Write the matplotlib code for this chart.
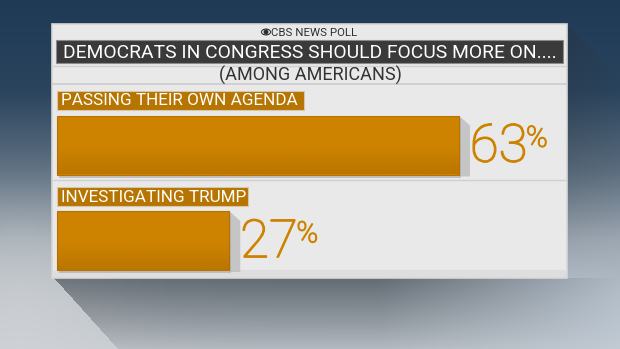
import numpy as np
import matplotlib.pyplot as plt
import matplotlib.patheffects as pe
from matplotlib.patches import Rectangle, Polygon, Ellipse, Circle
from matplotlib.colors import to_rgb

# poll results (percent)
labels = ['PASSING THEIR OWN AGENDA', 'INVESTIGATING TRUMP']
values = [63, 27]
title = 'DEMOCRATS IN CONGRESS SHOULD FOCUS MORE ON....'
subtitle = '(AMONG AMERICANS)'
source = 'CBS NEWS POLL'

W, H = 620, 349
PX_PER_PCT = 6.38
X0 = 57

fig = plt.figure(figsize=(W / 100, H / 100), dpi=100)

# background axes in pixel coordinates
bg = fig.add_axes([0, 0, 1, 1])
bg.set_xlim(0, W)
bg.set_ylim(H, 0)
bg.axis('off')

# cloudy blue-grey backdrop
yy, xx = np.mgrid[0:H, 0:W]
stops_y = [0, 90, 170, 240, 300, 349]
stops_c = ['#1f3a55', '#2a445e', '#5b6d7e', '#9aa4ae', '#b4bcc4', '#c6ccd2']
img = np.zeros((H, W, 3))
for ch in range(3):
    col = np.interp(yy[:, 0], stops_y, [to_rgb(c)[ch] for c in stops_c])
    img[:, :, ch] = col[:, None]
# lighter haze at lower left, bluer at lower right
haze = np.exp(-(((xx - 20) / 120) ** 2 + ((yy - 300) / 90) ** 2))
img = img * (1 - 0.5 * haze[..., None]) + 0.5 * haze[..., None] * np.array(to_rgb('#dcdcdc'))
blue = np.exp(-(((xx - 600) / 150) ** 2 + ((yy - 320) / 80) ** 2))
img = img * (1 - 0.3 * blue[..., None]) + 0.3 * blue[..., None] * np.array(to_rgb('#b8c8d8'))

# cast shadow under the panel, darkest next to it
shadow = np.zeros((H, W))
inside = (yy >= 278) & (xx >= 54 + (yy - 278) * (64 / 71))
fade = np.clip(1 - (yy - 278) / 90, 0, 1) * np.clip(1 - (xx - 380) / 240, 0, 1)
shadow[inside] = 0.55 * fade[inside]
# faint shadow to the right of the panel
side = (xx > 567) & (yy > 24 + (xx - 567) * 1.0) & (yy < 278)
sfade = np.clip(1 - (yy - 24) / 250, 0, 1) * np.clip(1 - (xx - 567) / 60, 0, 1)
shadow[side] = 0.35 * sfade[side]
img = img * (1 - shadow[..., None]) + shadow[..., None] * np.array(to_rgb('#2a323a'))
bg.imshow(img, extent=(0, W, H, 0), aspect='auto', zorder=0)

# panel
bg.add_patch(Rectangle((52, 24), 515, 254, facecolor='#e9e9e9',
                       edgecolor='#d6d6d6', lw=1.2, zorder=2))
bg.add_patch(Rectangle((53, 270), 513, 7, facecolor='#dedede', lw=0, zorder=2))

# header with eye logo
bg.add_patch(Ellipse((266, 32), 10, 7, facecolor='#2e2e2e', lw=0, zorder=3))
bg.add_patch(Ellipse((266, 32), 8, 4.6, facecolor='#e9e9e9', lw=0, zorder=3))
bg.add_patch(Circle((266, 32), 2.4, facecolor='#2e2e2e', lw=0, zorder=3))
bg.text(271, 32.5, source, ha='left', va='center', fontsize=8.2,
        family='Roboto', color='#2e2e2e', zorder=4)

# title bar
bg.add_patch(Rectangle((56, 40), 507, 23, facecolor='#3a3a3a',
                       edgecolor='#8a8a8a', lw=0.8, zorder=3))
bg.text(309.5, 52.5, title, ha='center', va='center', fontsize=13.9,
        family='Roboto', color='white', zorder=4)

# subtitle row
bg.plot([53, 566], [66, 66], color='#d0d0d0', lw=1, zorder=3)
bg.plot([53, 566], [84, 84], color='#d0d0d0', lw=1.4, zorder=3)
bg.text(310, 75.5, subtitle, ha='center', va='center', fontsize=13,
        family='Roboto', color='#333333', zorder=4)

# divider between the two answers
bg.plot([53, 566], [180, 180], color='#cfcfcf', lw=1, zorder=3)

# bar axes: x in percent, y in pixels
ax = fig.add_axes([0, 0, 1, 1])
ax.set_xlim(-X0 / PX_PER_PCT, (W - X0) / PX_PER_PCT)
ax.set_ylim(H, 0)
ax.axis('off')
ax.patch.set_alpha(0)

bar_y = [145, 240.5]
bar_h = [59, 59]
label_y = [100, 196.5]
label_w = [247 / PX_PER_PCT, 191 / PX_PER_PCT]
orange = '#cd8200'
thicken = [pe.withStroke(linewidth=0.9, foreground=orange)]

for lab, val, yc, h, ly, lw_ in zip(labels, values, bar_y, bar_h, label_y, label_w):
    top, bot = yc - h / 2, yc + h / 2
    right = val
    # side shadow of the bar
    sx = 11 / PX_PER_PCT
    ax.add_patch(Polygon([(right, top), (right + sx, top + 10), (right + sx, bot + 2), (right, bot + 2)],
                         closed=True, color='#bdbdbd', alpha=0.8, lw=0, zorder=2))
    ax.add_patch(Rectangle((0.3, top + 3), val, h, color='#a8a8a8', alpha=0.6, lw=0, zorder=2))
    ax.barh([yc], [val], height=h, left=0, color=orange,
            edgecolor='#b87200', linewidth=0.8, zorder=3)
    # darker lower edge gradient
    grad = np.linspace(0, 1, 50)[:, None]
    cmap_img = np.ones((50, 1, 4))
    cmap_img[..., :3] = to_rgb('#9a6000')
    cmap_img[..., 3] = 0.35 * np.clip((grad - 0.55) / 0.45, 0, 1)
    ax.imshow(cmap_img, extent=(0, val, bot, top), aspect='auto', zorder=4)

    # answer label
    ax.add_patch(Rectangle((0, ly - 9.5), lw_, 19, facecolor='#b67400',
                           edgecolor='#d8c8a8', lw=0.8, zorder=3))
    ax.text(0.55, ly + 0.5, lab, ha='left', va='center', fontsize=12.3,
            family='Roboto', color='white', zorder=4)

    # value label
    t = ax.text(val + 1.7, yc + 2, f'{val}', ha='left', va='center', fontsize=38,
                family='Roboto', fontweight='light', color=orange, zorder=4,
                path_effects=thicken)
    ax.annotate('%', xy=(1, 1), xycoords=t, xytext=(-1, -2.5), textcoords='offset points',
                ha='left', va='top', fontsize=21, family='Roboto', fontweight='light',
                color=orange, zorder=4, path_effects=thicken)

ax.set_xlim(-X0 / PX_PER_PCT, (W - X0) / PX_PER_PCT)
ax.set_ylim(H, 0)

fig.savefig('out.png', dpi=100)
